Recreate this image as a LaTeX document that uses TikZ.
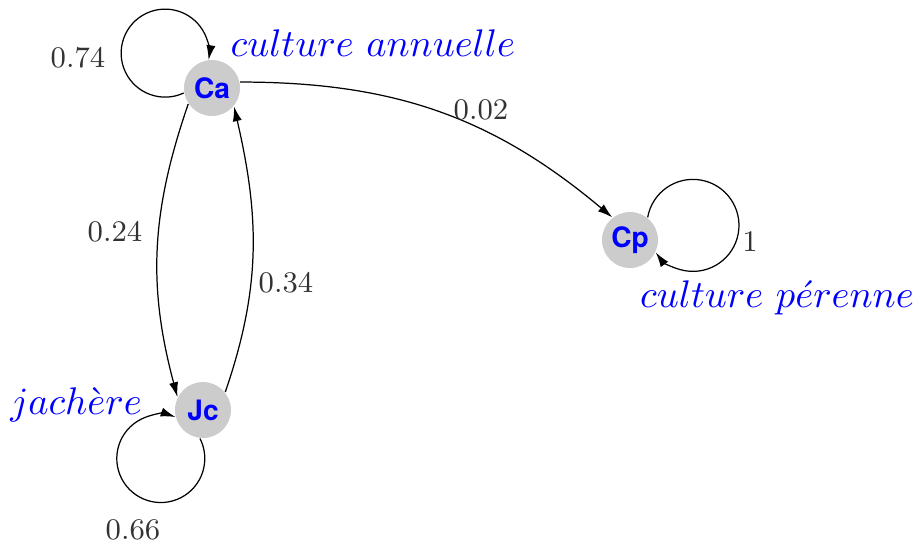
\documentclass[tikz,border=0pt]{standalone}
\usepackage{amsmath}
\usepackage{xcolor}
\usepackage{fontspec}
\newfontfamily\statefont{TeX Gyre Heros}
\usepackage{tikz}
\usetikzlibrary{arrows.meta,positioning}

\begin{document}
\begin{tikzpicture}[
  state/.style={circle, fill=gray!40, minimum size=0.56cm, inner sep=0pt,
                text=blue, font=\statefont\bfseries\fontsize{8}{9}\selectfont},
  arr/.style={-{Latex[length=4.2pt,width=2.6pt]}, line width=0.35pt},
  prob/.style={text=black!80, font=\fontsize{8.5}{10}\selectfont},
  statename/.style={text=blue, font=\fontsize{11}{13}\selectfont}
]
\useasboundingbox (0,0) rectangle (9.2,5.47);

% States
\node[state] (Ca) at (2.12,4.59) {Ca};
\node[state] (Cp) at (6.30,3.07) {Cp};
\node[state] (Jc) at (2.03,1.37) {Jc};

% State names
\node[statename] (nCa) at (3.73,5.04) {$culture\ annuelle$};
\node[statename] (nCp) at (7.77,2.49) {$culture\ p\acute{e}renne$};
\node[statename] (nJc) at (0.76,1.42) {$jach\grave{e}re$};

% Transitions
\draw[arr] (Ca.190) arc[start angle=-65, end angle=-369, radius=0.44];
\draw[arr] (Ca.12) to[out=0, in=140] (Cp.128);
\draw[arr] (Ca.214) to[out=251, in=105] (Jc.153);
\draw[arr] (Jc.39) to[out=71, in=-77] (Ca.-40);
\draw[arr] (Cp.52) arc[start angle=170, end angle=-144, radius=0.46];
\draw[arr] (Jc.264) arc[start angle=27, end angle=-289.5, radius=0.44];

% Probabilities
\node[prob] (p74) at (0.78,4.89) {0.74};
\node[prob] (p02) at (4.81,4.37) {0.02};
\node[prob] (p1)  at (7.50,3.05) {1};
\node[prob] (p24) at (1.15,3.15) {0.24};
\node[prob] (p34) at (2.86,2.64) {0.34};
\node[prob] (p66) at (1.33,0.17) {0.66};

\end{tikzpicture}
\end{document}
